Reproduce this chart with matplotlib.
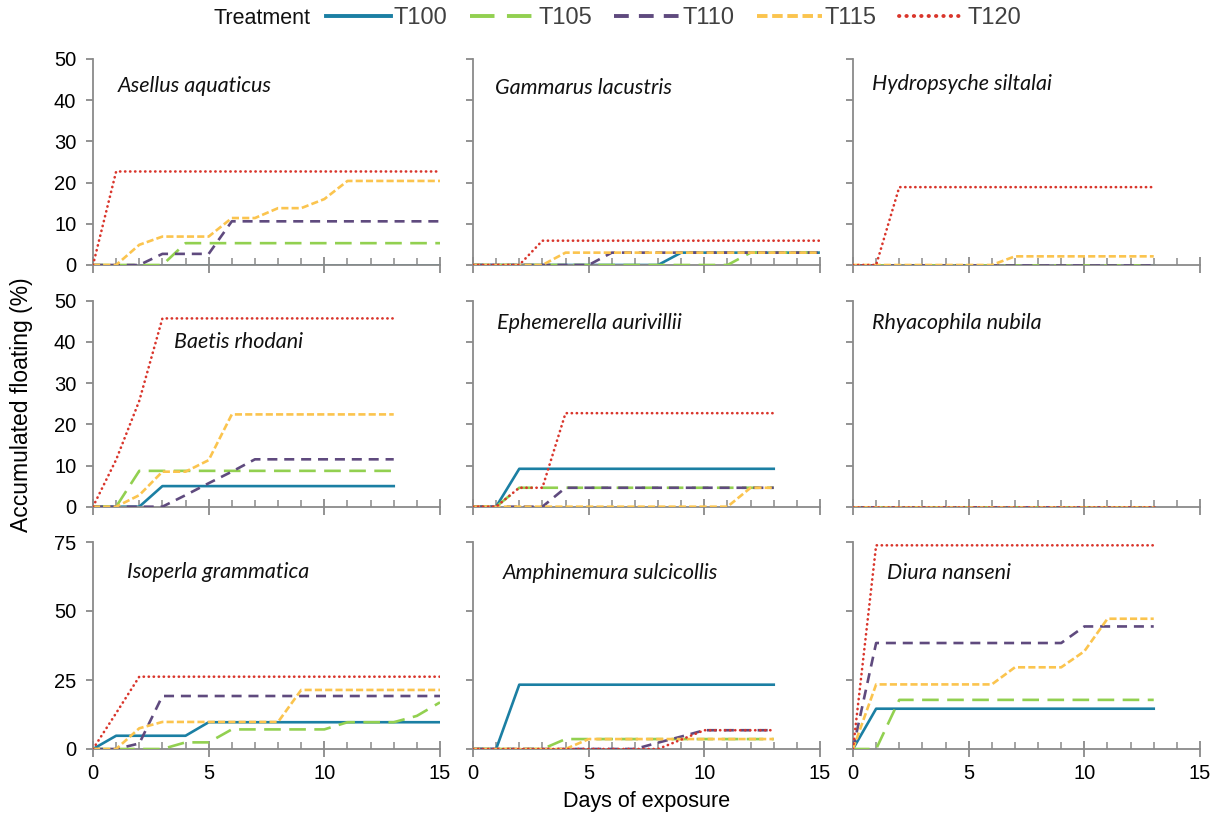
import matplotlib
matplotlib.use("Agg")
import matplotlib.pyplot as plt
from matplotlib.lines import Line2D
from matplotlib.ticker import MultipleLocator

plt.rcParams['font.family'] = ['Liberation Sans', 'DejaVu Sans']

treatments = ["T100", "T105", "T110", "T115", "T120"]
colors = ["#1b7fa3", "#92d050", "#5f4a7e", "#fbc44e", "#d9352b"]
styles = ["-", (0, (6.3, 3.2)), (0, (3.8, 2.6)), (0, (2.7, 1.2)), (0, (0.1, 1.8))]

# accumulated floating (%) per day, day 0 onwards
asellus = {
    "T100": [0, 0, 0, 0, 0, 0, 0, 0, 0, 0, 0, 0, 0, 0, 0, 0],
    "T105": [0, 0, 0, 0, 5.3, 5.3, 5.3, 5.3, 5.3, 5.3, 5.3, 5.3, 5.3, 5.3, 5.3, 5.3],
    "T110": [0, 0, 0, 2.7, 2.7, 2.7, 10.6, 10.6, 10.6, 10.6, 10.6, 10.6, 10.6, 10.6, 10.6, 10.6],
    "T115": [0, 0, 4.9, 6.9, 6.9, 6.9, 11.4, 11.4, 13.8, 13.8, 16.0, 20.4, 20.4, 20.4, 20.4, 20.4],
    "T120": [0, 22.7, 22.7, 22.7, 22.7, 22.7, 22.7, 22.7, 22.7, 22.7, 22.7, 22.7, 22.7, 22.7, 22.7, 22.7],
}
gammarus = {
    "T100": [0, 0, 0, 0, 0, 0, 0, 0, 0, 3.0, 3.0, 3.0, 3.0, 3.0, 3.0, 3.0],
    "T105": [0, 0, 0, 0, 0, 0, 0, 0, 0, 0, 0, 0, 3.0, 3.0, 3.0, 3.0],
    "T110": [0, 0, 0, 0, 0, 0, 3.0, 3.0, 3.0, 3.0, 3.0, 3.0, 3.0, 3.0, 3.0, 3.0],
    "T115": [0, 0, 0, 0, 3.0, 3.0, 3.0, 3.0, 3.0, 3.0, 3.0, 3.0, 3.0, 3.0, 3.0, 3.0],
    "T120": [0, 0, 0, 5.9, 5.9, 5.9, 5.9, 5.9, 5.9, 5.9, 5.9, 5.9, 5.9, 5.9, 5.9, 5.9],
}
hydropsyche = {
    "T100": [0, 0, 0, 0, 0, 0, 0, 0, 0, 0, 0, 0, 0, 0],
    "T105": [0, 0, 0, 0, 0, 0, 0, 0, 0, 0, 0, 0, 0, 0],
    "T110": [0, 0, 0, 0, 0, 0, 0, 0, 0, 0, 0, 0, 0, 0],
    "T115": [0, 0, 0, 0, 0, 0, 0, 2.1, 2.1, 2.1, 2.1, 2.1, 2.1, 2.1],
    "T120": [0, 0, 18.9, 18.9, 18.9, 18.9, 18.9, 18.9, 18.9, 18.9, 18.9, 18.9, 18.9, 18.9],
}
baetis = {
    "T100": [0, 0, 0, 5.0, 5.0, 5.0, 5.0, 5.0, 5.0, 5.0, 5.0, 5.0, 5.0, 5.0],
    "T105": [0, 0, 8.7, 8.7, 8.7, 8.7, 8.7, 8.7, 8.7, 8.7, 8.7, 8.7, 8.7, 8.7],
    "T110": [0, 0, 0, 0, 2.8, 5.7, 8.5, 11.5, 11.5, 11.5, 11.5, 11.5, 11.5, 11.5],
    "T115": [0, 0, 2.8, 8.5, 8.5, 11.3, 22.4, 22.4, 22.4, 22.4, 22.4, 22.4, 22.4, 22.4],
    "T120": [0, 11.4, 25.7, 45.7, 45.7, 45.7, 45.7, 45.7, 45.7, 45.7, 45.7, 45.7, 45.7, 45.7],
}
ephemerella = {
    "T100": [0, 0, 9.2, 9.2, 9.2, 9.2, 9.2, 9.2, 9.2, 9.2, 9.2, 9.2, 9.2, 9.2],
    "T105": [0, 0, 4.6, 4.6, 4.6, 4.6, 4.6, 4.6, 4.6, 4.6, 4.6, 4.6, 4.6, 4.6],
    "T110": [0, 0, 0, 0, 4.6, 4.6, 4.6, 4.6, 4.6, 4.6, 4.6, 4.6, 4.6, 4.6],
    "T115": [0, 0, 0, 0, 0, 0, 0, 0, 0, 0, 0, 0, 4.6, 4.6],
    "T120": [0, 0, 4.6, 4.6, 22.7, 22.7, 22.7, 22.7, 22.7, 22.7, 22.7, 22.7, 22.7, 22.7],
}
rhyacophila = {
    "T100": [0, 0, 0, 0, 0, 0, 0, 0, 0, 0, 0, 0, 0, 0],
    "T105": [0, 0, 0, 0, 0, 0, 0, 0, 0, 0, 0, 0, 0, 0],
    "T110": [0, 0, 0, 0, 0, 0, 0, 0, 0, 0, 0, 0, 0, 0],
    "T115": [0, 0, 0, 0, 0, 0, 0, 0, 0, 0, 0, 0, 0, 0],
    "T120": [0, 0, 0, 0, 0, 0, 0, 0, 0, 0, 0, 0, 0, 0],
}
isoperla = {
    "T100": [0, 4.8, 4.8, 4.8, 4.8, 9.7, 9.7, 9.7, 9.7, 9.7, 9.7, 9.7, 9.7, 9.7, 9.7, 9.7],
    "T105": [0, 0, 0, 0, 2.4, 2.4, 7.1, 7.1, 7.1, 7.1, 7.1, 9.7, 9.7, 9.7, 12.0, 16.9],
    "T110": [0, 0, 2.0, 19.2, 19.2, 19.2, 19.2, 19.2, 19.2, 19.2, 19.2, 19.2, 19.2, 19.2, 19.2, 19.2],
    "T115": [0, 0, 7.5, 9.8, 9.8, 9.8, 9.8, 9.8, 9.8, 21.4, 21.4, 21.4, 21.4, 21.4, 21.4, 21.4],
    "T120": [0, 13.0, 26.2, 26.2, 26.2, 26.2, 26.2, 26.2, 26.2, 26.2, 26.2, 26.2, 26.2, 26.2, 26.2, 26.2],
}
amphinemura = {
    "T100": [0, 0, 23.3, 23.3, 23.3, 23.3, 23.3, 23.3, 23.3, 23.3, 23.3, 23.3, 23.3, 23.3],
    "T105": [0, 0, 0, 0, 3.6, 3.6, 3.6, 3.6, 3.6, 3.6, 3.6, 3.6, 3.6, 3.6],
    "T110": [0, 0, 0, 0, 0, 0, 0, 0, 2.3, 4.5, 6.8, 6.8, 6.8, 6.8],
    "T115": [0, 0, 0, 0, 0, 3.6, 3.6, 3.6, 3.6, 3.6, 3.6, 3.6, 3.6, 3.6],
    "T120": [0, 0, 0, 0, 0, 0, 0, 0, 0, 3.4, 6.8, 6.8, 6.8, 6.8],
}
diura = {
    "T100": [0, 14.6, 14.6, 14.6, 14.6, 14.6, 14.6, 14.6, 14.6, 14.6, 14.6, 14.6, 14.6, 14.6],
    "T105": [0, 0, 17.8, 17.8, 17.8, 17.8, 17.8, 17.8, 17.8, 17.8, 17.8, 17.8, 17.8, 17.8],
    "T110": [0, 38.4, 38.4, 38.4, 38.4, 38.4, 38.4, 38.4, 38.4, 38.4, 44.4, 44.4, 44.4, 44.4],
    "T115": [0, 23.4, 23.4, 23.4, 23.4, 23.4, 23.4, 29.6, 29.6, 29.6, 35.4, 47.2, 47.2, 47.2],
    "T120": [0, 73.8, 73.8, 73.8, 73.8, 73.8, 73.8, 73.8, 73.8, 73.8, 73.8, 73.8, 73.8, 73.8],
}

panels = [
    ["Asellus aquaticus", asellus, (0.072, 0.87)],
    ["Gammarus lacustris", gammarus, (0.063, 0.86)],
    ["Hydropsyche siltalai", hydropsyche, (0.055, 0.88)],
    ["Baetis rhodani", baetis, (0.233, 0.80)],
    ["Ephemerella aurivillii", ephemerella, (0.069, 0.89)],
    ["Rhyacophila nubila", rhyacophila, (0.055, 0.89)],
    ["Isoperla grammatica", isoperla, (0.098, 0.855)],
    ["Amphinemura sulcicollis", amphinemura, (0.086, 0.85)],
    ["Diura nanseni", diura, (0.098, 0.85)],
]

W, H = 1221, 815
col_left = [93, 473, 853]
row_top = [59, 300.7, 542]
row_bot = [265, 506.7, 749]
axw = 347

fig = plt.figure(figsize=(W / 100, H / 100), dpi=100)
grey = "#8a8a8a"

for i, (name, data, pos) in enumerate(panels):
    r, c = divmod(i, 3)
    ax = fig.add_axes([col_left[c] / W, (H - row_bot[r]) / H, axw / W, (row_bot[r] - row_top[r]) / H])
    for k, t in enumerate(treatments):
        vals = data[t]
        ax.plot(range(len(vals)), vals, color=colors[k], linestyle=styles[k], lw=1.9,
                dash_capstyle="round" if t == "T120" else "butt", zorder=2 + k)
    ax.set_xlim(0, 15)
    if r < 2:
        ax.set_ylim(0, 50)
        ax.yaxis.set_major_locator(MultipleLocator(10))
    else:
        ax.set_ylim(0, 75)
        ax.yaxis.set_major_locator(MultipleLocator(25))
    ax.xaxis.set_major_locator(MultipleLocator(5))
    ax.xaxis.set_minor_locator(MultipleLocator(1))
    for s in ["top", "right"]:
        ax.spines[s].set_visible(False)
    for s in ["left", "bottom"]:
        ax.spines[s].set_color(grey)
        ax.spines[s].set_linewidth(1.3)
    ax.tick_params(axis="x", which="major", direction="inout", length=11, width=1.3, color=grey,
                   labelsize=14.5, pad=5, labelbottom=(r == 2))
    ax.tick_params(axis="x", which="minor", direction="in", length=5, width=1.1, color=grey)
    ax.tick_params(axis="y", which="major", direction="out", length=5, width=1.3, color=grey,
                   labelsize=14.5, pad=7, labelleft=(c == 0))
    ax.set_facecolor("none")
    ax.text(pos[0], pos[1], name, transform=ax.transAxes, ha="left", va="center",
            fontsize=15.5, style="italic", family=["Lato", "DejaVu Sans"], color="#111111")

fig.text(22 / W, 1 - 405 / H, "Accumulated floating (%)", rotation=90, ha="center", va="center", fontsize=16.5)
fig.text(647 / W, 1 - 801 / H, "Days of exposure", ha="center", va="center", fontsize=15.5)

fig.text(213 / W, 1 - 18 / H, "Treatment", ha="left", va="center", fontsize=15.5, color="#111111")
handles = [Line2D([0], [0], color=colors[k], linestyle=styles[k], lw=2.8,
                  dash_capstyle="round" if treatments[k] == "T120" else "butt")
           for k in range(5)]
fig.legend(handles, treatments, loc="center left", bbox_to_anchor=(326 / W, 1 - 18 / H), ncol=5,
           frameon=False, fontsize=17, handlelength=2.75, handletextpad=0.13, columnspacing=0.95,
           borderpad=0, borderaxespad=0, labelcolor="#404040")

fig.savefig("out.png", dpi=100)
